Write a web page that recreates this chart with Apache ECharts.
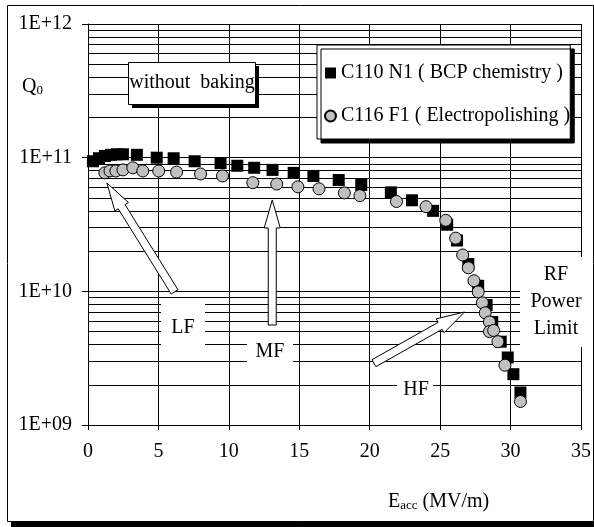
<!DOCTYPE html>
<html>
<head>
<meta charset="utf-8">
<script src="https://cdn.jsdelivr.net/npm/echarts@6/dist/echarts.min.js"></script>
<style>
  html, body { margin: 0; padding: 0; background: #fff; }
  #chart { width: 594px; height: 527px; }
</style>
</head>
<body>
<div id="chart"></div>
<script>
// C110 N1 (BCP chemistry) - black squares
var bcpE = [0.35, 0.78, 1.2, 1.63, 2.05, 2.48, 3.47, 4.88, 6.08, 7.57, 9.41, 10.6, 11.8, 13.1, 14.6, 16.0, 17.8, 19.4,
  21.5, 23.0, 24.5, 25.5, 26.2, 27.0, 27.7, 28.3, 28.7, 29.3, 29.8, 30.2, 30.7];
var bcpQ = [9.4e10, 9.9e10, 1.03e11, 1.05e11, 1.06e11, 1.06e11, 1.05e11, 1.0e11, 9.9e10, 9.4e10, 9.1e10, 8.7e10, 8.4e10,
  8.1e10, 7.7e10, 7.3e10, 6.8e10, 6.25e10, 5.5e10, 4.8e10, 4.0e10, 3.15e10, 2.4e10, 1.6e10, 1.1e10, 7.9e9, 5.9e9,
  4.2e9, 3.2e9, 2.4e9, 1.75e9];

// C116 F1 (Electropolishing) - grey circles
var epE = [1.2, 1.56, 1.98, 2.48, 3.18, 3.89, 5.02, 6.29, 7.99, 9.55, 11.7, 13.4, 14.9, 16.4, 18.2, 19.3, 21.9, 24.0,
  25.4, 26.1, 26.6, 27.0, 27.4, 27.7, 28.0, 28.2, 28.5, 28.5, 28.8, 29.1, 29.6, 30.7];
var epQ = [7.7e10, 7.95e10, 7.95e10, 8.1e10, 8.4e10, 7.95e10, 7.95e10, 7.8e10, 7.55e10, 7.3e10, 6.5e10, 6.35e10, 6.05e10,
  5.85e10, 5.45e10, 5.2e10, 4.7e10, 4.3e10, 3.4e10, 2.5e10, 1.87e10, 1.5e10, 1.2e10, 9.9e9, 8.2e9, 6.9e9, 5.9e9,
  5.0e9, 5.1e9, 4.2e9, 2.8e9, 1.5e9];

var seriesNames = ["C110 N1 ( BCP chemistry )", "C116 F1 ( Electropolishing )"];

// minor log grid lines (2..9 in every decade)
var decades = [1e9, 1e10, 1e11];
var minorSteps = [2, 3, 4, 5, 6, 7, 8, 9];

// annotation arrows, [tail, tip] in data units
var arrows = [
  [[6.15, 9.9e9], [1.34, 6.47e10]],   // LF
  [[13.08, 5.6e9], [13.08, 4.83e10]], // MF
  [[20.3, 2.9e9], [26.73, 7.0e9]]     // HF
];

var FONT = "'Liberation Serif', 'Times New Roman', serif";

function pairs(xs, ys) {
  var out = [];
  for (var i = 0; i < xs.length; i++) out.push([xs[i], ys[i]]);
  return out;
}

var minorLines = [];
decades.forEach(function (d) {
  minorSteps.forEach(function (m) {
    minorLines.push({ yAxis: d * m });
  });
});

var chart = echarts.init(document.getElementById("chart"));

var option = {
  animation: false,
  backgroundColor: "#fff",
  grid: { left: 88, right: 11, top: 24, bottom: 102 },
  legend: {
    data: seriesNames,
    orient: "vertical",
    left: 317,
    top: 45,
    padding: [18, 0, 13, 7],
    itemGap: 23,
    itemWidth: 11,
    itemHeight: 11,
    backgroundColor: "#fff",
    borderColor: "#000",
    borderWidth: 1,
    shadowColor: "#000",
    shadowBlur: 0,
    shadowOffsetX: 4,
    shadowOffsetY: 4,
    textStyle: { fontFamily: FONT, fontSize: 20, color: "#000", lineHeight: 20 },
    selectedMode: false
  },
  xAxis: {
    type: "value",
    min: 0,
    max: 35,
    interval: 5,
    axisLine: { lineStyle: { color: "#000", width: 1 } },
    axisTick: { show: true, length: 5, lineStyle: { color: "#000" } },
    axisLabel: { fontFamily: FONT, fontSize: 20, color: "#000", margin: 17 },
    splitLine: { show: true, lineStyle: { color: "#000", width: 1 } }
  },
  yAxis: {
    type: "log",
    logBase: 10,
    min: 1e9,
    max: 1e12,
    axisLine: { show: true, lineStyle: { color: "#000", width: 1 } },
    axisTick: { show: true, length: 6, lineStyle: { color: "#000" } },
    axisLabel: {
      fontFamily: FONT, fontSize: 20, color: "#000", margin: 16,
      formatter: function (v) {
        var e = Math.round(Math.log10(v));
        return "1E+" + (e < 10 ? "0" + e : e);
      }
    },
    splitLine: { show: true, lineStyle: { color: "#000", width: 1 } }
  },
  series: [
    {
      type: "scatter",
      data: [],
      silent: true,
      markLine: {
        silent: true,
        z: 1,
        symbol: ["none", "none"],
        label: { show: false },
        lineStyle: { color: "#000", width: 1, type: "solid" },
        emphasis: { disabled: true },
        data: minorLines
      }
    },
    {
      name: seriesNames[0],
      type: "scatter",
      symbol: "rect",
      symbolSize: 12,
      z: 3,
      itemStyle: { color: "#000", opacity: 1 },
      data: pairs(bcpE, bcpQ)
    },
    {
      name: seriesNames[1],
      type: "scatter",
      symbol: "circle",
      symbolSize: 12,
      z: 4,
      itemStyle: { color: "#c0c0c0", borderColor: "#000", borderWidth: 1, opacity: 1 },
      data: pairs(epE, epQ)
    }
  ]
};

chart.setOption(option);

// hollow block arrow
var SHAFT = 4, HEAD_W = 8, HEAD_LEN = 28;
function arrowPoints(tail, tip) {
  var dx = tip[0] - tail[0], dy = tip[1] - tail[1];
  var len = Math.sqrt(dx * dx + dy * dy);
  var ux = dx / len, uy = dy / len, nx = -uy, ny = ux;
  var bx = tip[0] - ux * HEAD_LEN, by = tip[1] - uy * HEAD_LEN;
  return [
    [tail[0] + nx * SHAFT, tail[1] + ny * SHAFT],
    [bx + nx * SHAFT, by + ny * SHAFT],
    [bx + nx * HEAD_W, by + ny * HEAD_W],
    [tip[0], tip[1]],
    [bx - nx * HEAD_W, by - ny * HEAD_W],
    [bx - nx * SHAFT, by - ny * SHAFT],
    [tail[0] - nx * SHAFT, tail[1] - ny * SHAFT]
  ];
}

function whiteBox(x, y, w, h) {
  return { type: "rect", z: 20, silent: true, shape: { x: x, y: y, width: w, height: h }, style: { fill: "#fff" } };
}
function label(text, x, y) {
  return {
    type: "text", z: 21, silent: true, x: x, y: y,
    style: { text: text, font: "20px " + FONT, fill: "#000", align: "center", verticalAlign: "middle", lineHeight: 27 }
  };
}

var graphics = [
  // outer frame with heavy bottom shadow
  { type: "rect", silent: true, shape: { x: 7.5, y: 5.5, width: 586, height: 516 }, style: { fill: null, stroke: "#000", lineWidth: 1 } },
  { type: "rect", silent: true, shape: { x: 11, y: 522, width: 583, height: 5 }, style: { fill: "#000" } },
  // "without baking" box
  { type: "rect", z: 20, silent: true, shape: { x: 132, y: 66, width: 127, height: 42 }, style: { fill: "#000" } },
  { type: "rect", z: 21, silent: true, shape: { x: 128.5, y: 62.5, width: 127, height: 42 }, style: { fill: "#fff", stroke: "#000", lineWidth: 1 } },
  label("without  baking", 192, 83),
  // region labels
  whiteBox(161, 304, 44, 52), label("LF", 183, 328),
  whiteBox(247, 336, 46, 33), label("MF", 270, 352),
  whiteBox(397, 368, 36, 46), label("HF", 416, 390),
  whiteBox(520, 257, 66, 90), label("RF\nPower\nLimit", 556, 302),
  // axis titles
  {
    type: "text", silent: true, x: 22, y: 87,
    style: {
      text: "{q|Q}{s|0}", verticalAlign: "middle", fill: "#000",
      rich: {
        q: { fontFamily: FONT, fontSize: 20, color: "#000" },
        s: { fontFamily: FONT, fontSize: 13, color: "#000", padding: [8, 0, 0, 0] }
      }
    }
  },
  {
    type: "text", silent: true, x: 388, y: 502,
    style: {
      text: "{e|E}{s|acc}{e| (MV/m)}", verticalAlign: "middle", fill: "#000",
      rich: {
        e: { fontFamily: FONT, fontSize: 20, color: "#000" },
        s: { fontFamily: FONT, fontSize: 13, color: "#000", padding: [8, 0, 0, 0] }
      }
    }
  }
];

arrows.forEach(function (a) {
  var tail = chart.convertToPixel({ gridIndex: 0 }, a[0]);
  var tip = chart.convertToPixel({ gridIndex: 0 }, a[1]);
  graphics.push({
    type: "polygon", z: 22, silent: true,
    shape: { points: arrowPoints(tail, tip) },
    style: { fill: "#fff", stroke: "#000", lineWidth: 1 }
  });
});

chart.setOption({ graphic: { elements: graphics } });
</script>
</body>
</html>
